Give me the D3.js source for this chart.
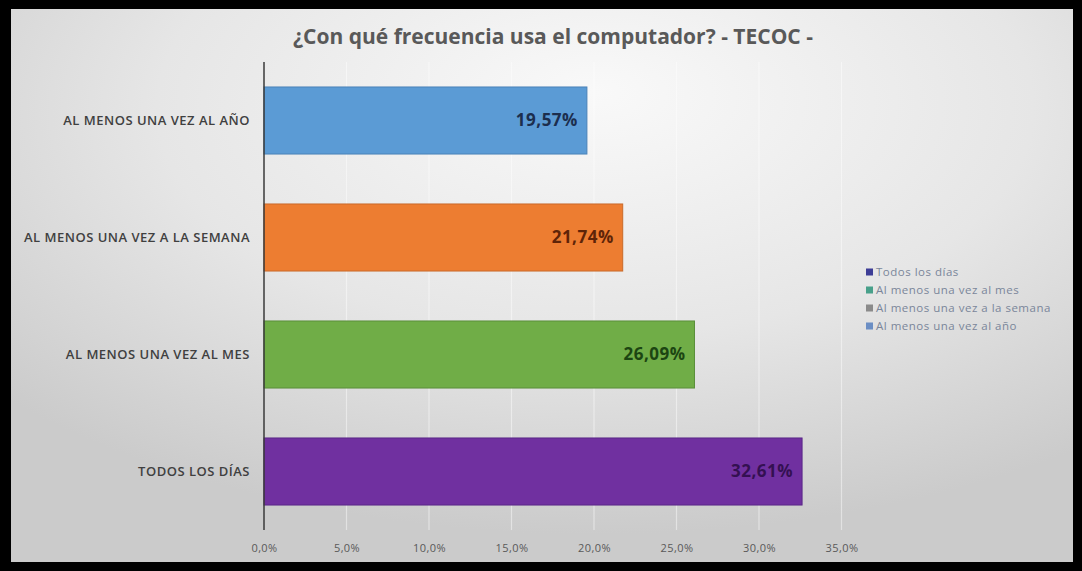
<!DOCTYPE html>
<html>
<head>
<meta charset="utf-8">
<script src="https://cdn.jsdelivr.net/npm/d3@7"></script>
<style>
  html, body { margin: 0; padding: 0; background: #ffffff; }
  svg { display: block; }
</style>
</head>
<body>
<svg id="chart" width="1082" height="571"></svg>
<script>
// Frequency of computer use, share of respondents (%)
const categories = ["TODOS LOS DÍAS", "AL MENOS UNA VEZ AL MES", "AL MENOS UNA VEZ A LA SEMANA", "AL MENOS UNA VEZ AL AÑO"];
const values = [32.61, 26.09, 21.74, 19.57];
const barColors = ["#7030a0", "#70ad47", "#ed7d31", "#5b9bd5"];
const barEdges = ["#5a2688", "#5b8f3a", "#c96a2a", "#4a82b8"];
const labelColors = ["#341052", "#1c4512", "#5e2408", "#1c2e4e"];
const xTicks = [0, 5, 10, 15, 20, 25, 30, 35];
const legendLabels = ["Todos los días", "Al menos una vez al mes", "Al menos una vez a la semana", "Al menos una vez al año"];
const legendColors = ["#3d3d96", "#48a08a", "#8a8a8a", "#6b8ec4"];
const title = "¿Con qué frecuencia usa el computador? - TECOC -";

const svg = d3.select("#chart");
const W = 1082, H = 571;

// Frame and background
const defs = svg.append("defs");
const bg = defs.append("radialGradient")
  .attr("id", "bgGrad")
  .attr("cx", 0.55).attr("cy", 0.2).attr("r", 0.75)
  .attr("fx", 0.55).attr("fy", 0.15);
bg.append("stop").attr("offset", 0).attr("stop-color", "#f9f9f9");
bg.append("stop").attr("offset", 0.55).attr("stop-color", "#e6e6e6");
bg.append("stop").attr("offset", 1).attr("stop-color", "#cbcbcb");

svg.append("rect").attr("x", 0).attr("y", 0).attr("width", W).attr("height", H).attr("fill", "#000");
svg.append("rect").attr("x", 11).attr("y", 9).attr("width", 1062).attr("height", 553).attr("fill", "url(#bgGrad)");

const font = "'Open Sans', 'Noto Sans', sans-serif";

// Scales
const x = d3.scaleLinear().domain([0, 35]).range([264, 841.5]);
const y = d3.scaleBand().domain(categories).range([530, 62]).paddingInner(0.427).paddingOuter(0.2135);

// Gridlines
svg.append("g")
  .selectAll("line")
  .data(xTicks.filter(d => d > 0))
  .join("line")
  .attr("x1", d => x(d)).attr("x2", d => x(d))
  .attr("y1", 62).attr("y2", 530)
  .attr("stroke", "#ffffff")
  .attr("stroke-opacity", 0.45)
  .attr("stroke-width", 1.2);

// X axis tick labels
const xAxis = d3.axisBottom(x)
  .tickValues(xTicks)
  .tickSize(0)
  .tickPadding(0)
  .tickFormat(d => d3.format(".1f")(d).replace(".", ",") + "%");
const gx = svg.append("g").attr("transform", "translate(0,545)").call(xAxis);
gx.select(".domain").remove();
gx.selectAll("text")
  .attr("dy", "0.35em")
  .attr("y", 3)
  .attr("fill", "#595959")
  .style("font-family", font)
  .style("font-size", "11px")
  .style("letter-spacing", "0.4px");

// Bars
const rows = categories.map((c, i) => ({ c, v: values[i], i }));
svg.append("g")
  .selectAll("rect")
  .data(rows)
  .join("rect")
  .attr("x", x(0))
  .attr("y", d => y(d.c))
  .attr("width", d => x(d.v) - x(0))
  .attr("height", y.bandwidth())
  .attr("fill", d => barColors[d.i])
  .attr("stroke", d => barEdges[d.i])
  .attr("stroke-width", 1);

// Value labels inside bar ends
svg.append("g")
  .selectAll("text")
  .data(rows)
  .join("text")
  .attr("x", d => x(d.v) - 9)
  .attr("y", d => y(d.c) + y.bandwidth() / 2)
  .attr("dy", "0.35em")
  .attr("text-anchor", "end")
  .attr("fill", d => labelColors[d.i])
  .style("font-family", font)
  .style("font-weight", 700)
  .style("font-size", "17px")
  .style("letter-spacing", "0.5px")
  .text(d => d3.format(".2f")(d.v).replace(".", ",") + "%");

// Y axis with category labels
const yAxis = d3.axisLeft(y).tickSize(0).tickPadding(14);
const gy = svg.append("g").attr("transform", `translate(${x(0)},0)`).call(yAxis);
gy.select(".domain").attr("stroke", "#3a3a3a").attr("stroke-width", 1.5).attr("d", "M0,62V530");
gy.selectAll("text")
  .attr("fill", "#404040")
  .style("font-family", font)
  .style("font-weight", 600)
  .style("font-size", "13px")
  .style("letter-spacing", "0.5px");

// Title
svg.append("text")
  .attr("x", 553).attr("y", 44)
  .attr("text-anchor", "middle")
  .attr("fill", "#595959")
  .style("font-family", font)
  .style("font-weight", 700)
  .style("font-size", "21px")
  .text(title);

// Legend
const lg = svg.append("g").attr("transform", "translate(866,272)");
const li = lg.selectAll("g")
  .data(legendLabels)
  .join("g")
  .attr("transform", (d, i) => `translate(0,${i * 18})`);
li.append("rect")
  .attr("x", 0).attr("y", -3.5)
  .attr("width", 7).attr("height", 7)
  .attr("fill", (d, i) => legendColors[i]);
li.append("text")
  .attr("x", 10).attr("y", 0)
  .attr("dy", "0.35em")
  .attr("fill", "#7a869a")
  .style("font-family", font)
  .style("font-size", "11.5px")
  .style("letter-spacing", "0.5px")
  .text(d => d);
</script>
</body>
</html>
